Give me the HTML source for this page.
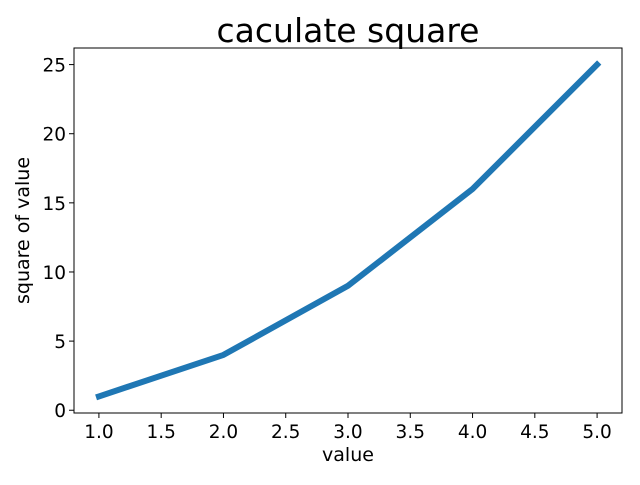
<!DOCTYPE html>
<html><head><meta charset="utf-8"><style>
body{margin:0;background:#fff;}
svg text{font-family:"DejaVu Sans","Liberation Sans",sans-serif;fill:#000;}
</style></head><body>
<svg width="640" height="480">
<rect width="640" height="480" fill="#fff"/>
<g id="plot"></g>
</svg>
<script>
const xValues=[1,2,3,4,5];
const yValues=[1,4,9,16,25];
const xTicks=[1.0,1.5,2.0,2.5,3.0,3.5,4.0,4.5,5.0];
const yTicks=[0,5,10,15,20,25];
const L=74,R=622,T=48,B=413;
const xmin=0.8,xmax=5.2,ymin=-0.2,ymax=26.2;
const sx=v=>L+(v-xmin)/(xmax-xmin)*(R-L);
const sy=v=>B-(v-ymin)/(ymax-ymin)*(B-T);
const g=document.getElementById('plot');
const NS='http://www.w3.org/2000/svg';
function mk(t,a){const e=document.createElementNS(NS,t);for(const k in a)e.setAttribute(k,a[k]);g.appendChild(e);return e;}
const line=mk('polyline',{points:xValues.map((x,i)=>sx(x)+','+sy(yValues[i])).join(' '),fill:'none',stroke:'#1f77b4','stroke-width':6,'stroke-linecap':'square','stroke-linejoin':'round'});


const frame=mk('rect',{x:L,y:T,width:R-L,height:B-T,fill:'none',stroke:'#000','stroke-width':1});


xTicks.forEach(v=>{
  mk('line',{x1:sx(v),x2:sx(v),y1:B,y2:B+5,stroke:'#000'});
  const t=mk('text',{x:sx(v),y:B+25,'text-anchor':'middle','font-size':18.5});
  t.textContent=v.toFixed(1);
  
  
});
yTicks.forEach(v=>{
  mk('line',{x1:L-5,x2:L,y1:sy(v),y2:sy(v),stroke:'#000'});
  const t=mk('text',{x:L-8,y:sy(v)+7,'text-anchor':'end','font-size':18.5});
  t.textContent=v;
  
  
});
const xl=mk('text',{x:(L+R)/2,y:461,'text-anchor':'middle','font-size':19});
xl.textContent='value';


const yl=mk('text',{x:29,y:(T+B)/2,'text-anchor':'middle','font-size':19,transform:'rotate(-90 29 '+((T+B)/2)+')'});
yl.textContent='square of value';


const ti=mk('text',{x:(L+R)/2,y:42,'text-anchor':'middle','font-size':33});
ti.textContent='caculate square';


</script>
</body></html>
